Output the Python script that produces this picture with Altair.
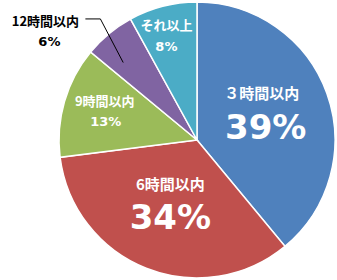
import altair as alt
import pandas as pd

categories = ["３時間以内", "6時間以内", "9時間以内", "12時間以内", "それ以上"]
values = [39, 34, 13, 6, 8]
pct_labels = ["39%", "34%", "13%", "6%", "8%"]
colors = ["#4F81BD", "#C0504D", "#9BBB59", "#8064A2", "#4BACC6"]

df = pd.DataFrame({"cat": categories, "value": values, "pct": pct_labels,
                   "idx": list(range(len(categories)))})

W, H = 274, 280
R = 138
FONT = "Noto Sans CJK JP"
NUM_FONT = "DejaVu Sans"
TWO_PI = 6.283185307

theta_scale = alt.Scale(domain=[0, 100], range=[0, TWO_PI])

base = (
    alt.Chart(df)
    .transform_window(cum="sum(value)", sort=[alt.SortField("idx")], frame=[None, 0])
    .transform_joinaggregate(total="sum(value)")
    .transform_calculate(mid="(datum.cum - datum.value / 2) / datum.total * 100")
)

pie = alt.Chart(df).mark_arc(radius=R, stroke="white", strokeWidth=1.5).encode(
    theta=alt.Theta("value:Q", stack=True, scale=theta_scale),
    order=alt.Order("idx:Q"),
    color=alt.Color("cat:N", scale=alt.Scale(domain=categories, range=colors), legend=None),
)


def label(cat, r, field, size, dx, dy, color, font):
    return (
        base.transform_filter(alt.datum.cat == cat)
        .mark_text(radius=r, dx=dx, dy=dy, fontSize=size, fontWeight="bold", font=font,
                   color=color, baseline="middle", align="center")
        .encode(theta=alt.Theta("mid:Q", scale=theta_scale, stack=False),
                text=alt.Text(field + ":N"))
    )


layers = [
    label(categories[0], 72, "cat", 15, -3, -22, "white", FONT),
    label(categories[0], 72, "pct", 34, 1, 13, "white", NUM_FONT),
    label(categories[1], 67, "cat", 15, -2, -17, "white", FONT),
    label(categories[1], 67, "pct", 34, -2, 17, "white", NUM_FONT),
    label(categories[2], 95, "cat", 13, -1, -11.5, "white", FONT),
    label(categories[2], 95, "pct", 13, 0, 9, "white", NUM_FONT),
    label(categories[4], 107, "cat", 13, -4, -10, "white", FONT),
    label(categories[4], 107, "pct", 13, -4, 11, "white", NUM_FONT),
    label(categories[3], 150, "cat", 13, -56, -2.5, "black", FONT),
    label(categories[3], 150, "pct", 13, -52, 18, "black", NUM_FONT),
]

leader = (
    base.transform_filter(alt.datum.cat == categories[3])
    .transform_calculate(th=f"datum.mid / 100 * {TWO_PI}")
    .transform_calculate(
        ax=f"{W/2} + 150 * sin(datum.th) - 56",
        ay=f"{H/2} - 150 * cos(datum.th) - 2.5",
    )
    .transform_calculate(
        ex="datum.ax + 40", ey="datum.ay - 3",
        bx="datum.ax + 55",
        px=f"{W/2} + 107 * sin(datum.th - 0.07)",
        py=f"{H/2} - 107 * cos(datum.th - 0.07)",
    )
)
rule1 = leader.mark_rule(color="black", strokeWidth=1).encode(
    x=alt.X("ex:Q", scale=None), x2="bx:Q",
    y=alt.Y("ey:Q", scale=None), y2="ey:Q",
)
rule2 = leader.mark_rule(color="black", strokeWidth=1).encode(
    x=alt.X("bx:Q", scale=None), x2="px:Q",
    y=alt.Y("ey:Q", scale=None), y2="py:Q",
)

chart = (
    alt.layer(pie, *layers, rule1, rule2)
    .properties(width=W, height=H, autosize="none",
                padding={"left": 60, "top": 0, "right": 3, "bottom": 0},
                background="white")
    .configure_view(strokeWidth=0)
)

chart.save("out.html", embed_options={"renderer": "svg", "actions": False})
